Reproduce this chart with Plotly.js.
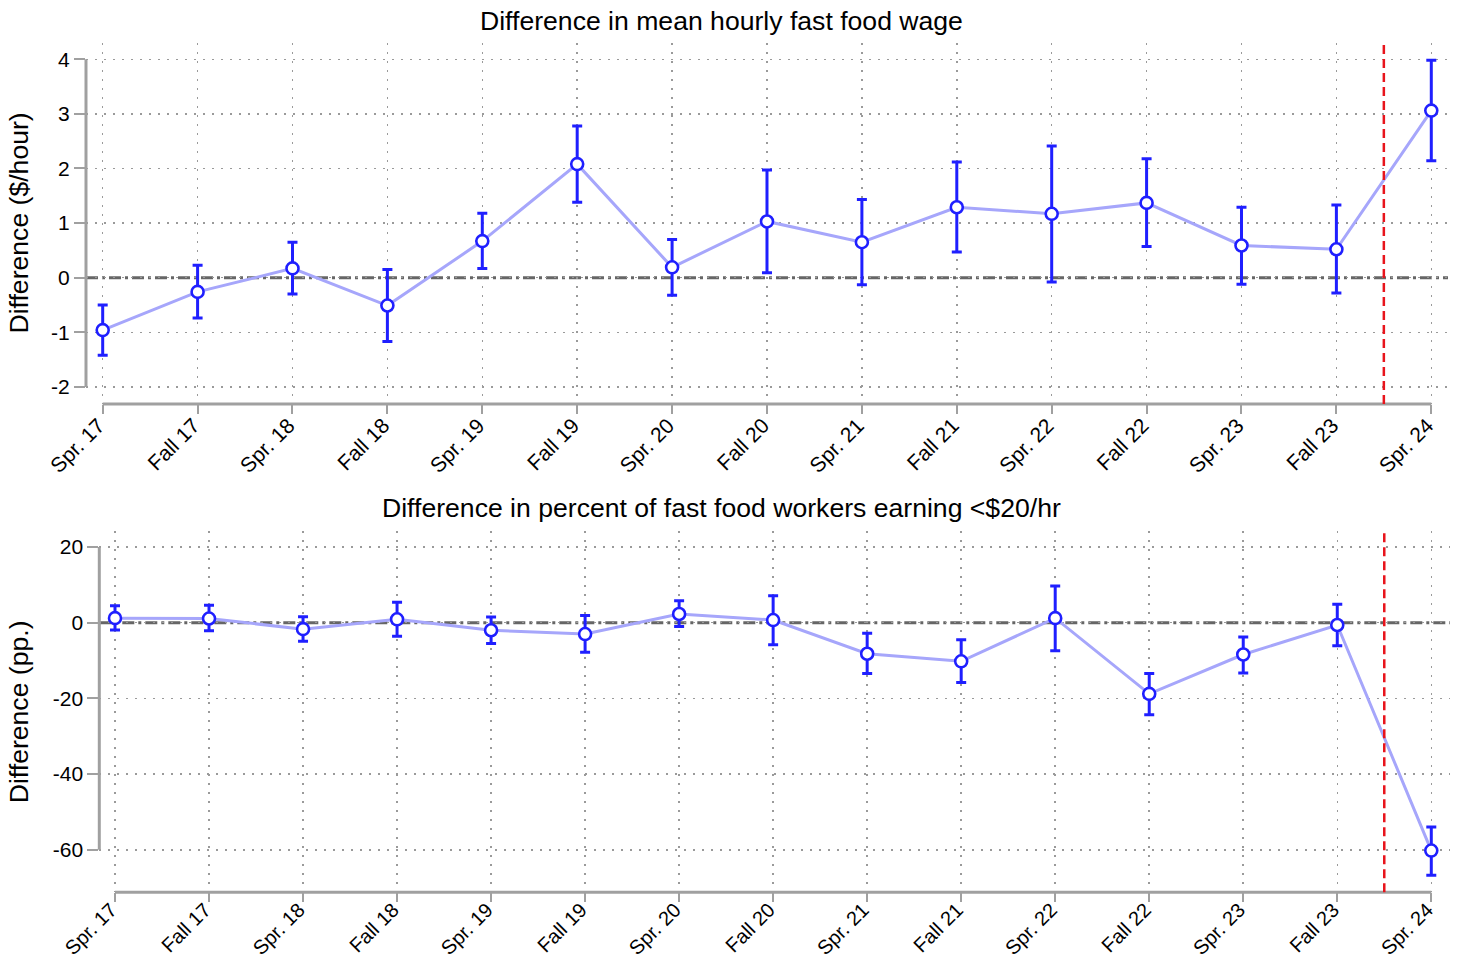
<!DOCTYPE html>
<html>
<head>
<meta charset="utf-8">
<script src="https://cdn.plot.ly/plotly-3.0.1.min.js"></script>
<style>
  html, body { margin: 0; padding: 0; background: #fff; }
  #chart { width: 1459px; height: 960px; }
</style>
</head>
<body>
<div id="chart"></div>
<script>
// Survey periods (x-axis categories)
const periods = ["Spr. 17", "Fall 17", "Spr. 18", "Fall 18", "Spr. 19", "Fall 19", "Spr. 20",
                 "Fall 20", "Spr. 21", "Fall 21", "Spr. 22", "Fall 22", "Spr. 23", "Fall 23", "Spr. 24"];

// Panel 1: difference in mean hourly fast food wage ($/hour), with 95% CI bounds
const wageDiff  = [-0.96, -0.26, 0.17, -0.51, 0.67, 2.08, 0.19, 1.03, 0.65, 1.29, 1.17, 1.37, 0.59, 0.52, 3.06];
const wageUpper = [-0.50,  0.23, 0.65,  0.15, 1.18, 2.78, 0.70, 1.97, 1.43, 2.12, 2.41, 2.18, 1.29, 1.33, 3.98];
const wageLower = [-1.42, -0.74, -0.30, -1.17, 0.17, 1.38, -0.32, 0.09, -0.13, 0.47, -0.08, 0.57, -0.12, -0.28, 2.14];

// Panel 2: difference in percent of workers earning < $20/hr (pp.), with 95% CI bounds
const shareDiff  = [1.2, 1.1, -1.7, 0.9, -2.0, -3.0, 2.3, 0.7, -8.2, -10.2, 1.2, -18.8, -8.4, -0.6, -60.2];
const shareUpper = [4.5, 4.6, 1.6, 5.4, 1.5, 1.9, 5.8, 7.1, -2.8, -4.5, 9.7, -13.4, -3.8, 4.9, -54.0];
const shareLower = [-1.9, -2.1, -4.9, -3.6, -5.5, -7.8, -1.0, -5.8, -13.4, -15.8, -7.4, -24.3, -13.3, -6.1, -66.7];

// Policy marker sits halfway between Fall 23 and Spr. 24
const policyIndex = 13.5;

const yTicksWage  = [-2, -1, 0, 1, 2, 3, 4];
const yTicksShare = [-60, -40, -20, 0, 20];

const titleWage  = "Difference in mean hourly fast food wage";
const titleShare = "Difference in percent of fast food workers earning &lt;$20/hr";
const yTitleWage  = "Difference ($/hour)";
const yTitleShare = "Difference (pp.)";

const FONT = "'Liberation Sans', Arial, sans-serif";
const BLUE = "#1f1fff";
const LINE_BLUE = "#a6a6fb";
const AXIS_GREY = "#a0a0a0";

const xIdx = periods.map((_, i) => i);

function ciTrace(y, hi, lo, xa, ya) {
  return {
    type: "scatter",
    mode: "lines+markers",
    x: xIdx,
    y: y,
    xaxis: xa,
    yaxis: ya,
    line: { color: LINE_BLUE, width: 3 },
    marker: { symbol: "circle", size: 12, color: "#ffffff", line: { color: BLUE, width: 2.6 } },
    error_y: {
      type: "data",
      symmetric: false,
      array: hi.map((v, i) => v - y[i]),
      arrayminus: y.map((v, i) => v - lo[i]),
      color: BLUE,
      thickness: 3,
      width: 5
    },
    hoverinfo: "x+y",
    showlegend: false
  };
}

const data = [
  ciTrace(wageDiff, wageUpper, wageLower, "x", "y"),
  ciTrace(shareDiff, shareUpper, shareLower, "x2", "y2")
];

function xAxis(domain, range, size, standoff) {
  return {
    domain: domain,
    range: range,
    tickvals: xIdx,
    ticktext: periods,
    tickangle: -45,
    ticks: "outside",
    ticklen: 9,
    tickwidth: 2,
    tickcolor: AXIS_GREY,
    ticklabelstandoff: standoff,
    ticklabelshift: -4,
    tickfont: { family: FONT, size: size, color: "#000" },
    showline: false,
    zeroline: false,
    showgrid: true,
    gridcolor: "#9a9a9a",
    gridwidth: 1.5,
    griddash: "2px,7px",
    fixedrange: true
  };
}

function yAxis(domain, range, ticks, anchor) {
  return {
    domain: domain,
    range: range,
    anchor: anchor,
    tickvals: ticks,
    // plain hyphen for negative labels
    ticktext: ticks.map(v => String(v)),
    ticks: "outside",
    ticklen: 11,
    tickwidth: 2,
    tickcolor: AXIS_GREY,
    tickfont: { family: FONT, size: 21, color: "#000" },
    showline: false,
    zeroline: false,
    showgrid: true,
    gridcolor: "#9a9a9a",
    gridwidth: 1.5,
    griddash: "2px,7px",
    fixedrange: true
  };
}

function panelShapes(xa, ya, yMin, yMax) {
  return [
    // reference line at zero
    { type: "line", xref: xa + " domain", yref: ya, x0: 0, x1: 1, y0: 0, y1: 0,
      line: { color: "#666666", width: 3, dash: "12px,4px,3px,4px" }, layer: "below" },
    // x axis line spanning first to last period
    { type: "line", xref: xa, yref: ya + " domain", x0: 0, x1: periods.length - 1, y0: 0, y1: 0,
      line: { color: AXIS_GREY, width: 3 }, layer: "above" },
    // y axis line spanning the labelled range
    { type: "line", xref: xa + " domain", yref: ya, x0: 0, x1: 0, y0: yMin, y1: yMax,
      line: { color: AXIS_GREY, width: 3 }, layer: "above" },
    // policy date
    { type: "line", xref: xa, yref: ya + " domain", x0: policyIndex, x1: policyIndex, y0: 0, y1: 1,
      line: { color: "#e8141c", width: 2.5, dash: "9px,5px" }, layer: "above" }
  ];
}

const layout = {
  width: 1459,
  height: 960,
  margin: { l: 0, r: 0, t: 0, b: 0 },
  paper_bgcolor: "#ffffff",
  plot_bgcolor: "#ffffff",
  font: { family: FONT, color: "#000" },
  showlegend: false,
  xaxis:  Object.assign(xAxis([0.05894, 0.99246], [-0.176, 14.176], 21, -9), { anchor: "y" }),
  yaxis:  yAxis([0.57917, 0.95521], [-2.313, 4.298], yTicksWage, "x"),
  xaxis2: Object.assign(xAxis([0.06806, 0.99383], [-0.167, 14.199], 20, -12), { anchor: "y2" }),
  yaxis2: yAxis([0.07052, 0.44687], [-71.23, 24.23], yTicksShare, "x2"),
  shapes: [].concat(
    panelShapes("x", "y", yTicksWage[0], yTicksWage[yTicksWage.length - 1]),
    panelShapes("x2", "y2", yTicksShare[0], yTicksShare[yTicksShare.length - 1])
  ),
  annotations: [
    { text: titleWage, xref: "paper", yref: "paper", x: 0.4942, y: 0.978,
      xanchor: "center", yanchor: "middle", showarrow: false,
      font: { family: FONT, size: 26.6, color: "#000" } },
    { text: titleShare, xref: "paper", yref: "paper", x: 0.4942, y: 0.4708,
      xanchor: "center", yanchor: "middle", showarrow: false,
      font: { family: FONT, size: 26.6, color: "#000" } },
    { text: yTitleWage, xref: "paper", yref: "paper", x: 0.0127, y: 0.7677,
      xanchor: "center", yanchor: "middle", textangle: -90, showarrow: false,
      font: { family: FONT, size: 26.6, color: "#000" } },
    { text: yTitleShare, xref: "paper", yref: "paper", x: 0.0127, y: 0.2586,
      xanchor: "center", yanchor: "middle", textangle: -90, showarrow: false,
      font: { family: FONT, size: 26.6, color: "#000" } }
  ]
};

Plotly.newPlot("chart", data, layout, { displayModeBar: false, staticPlot: true });
</script>
</body>
</html>
